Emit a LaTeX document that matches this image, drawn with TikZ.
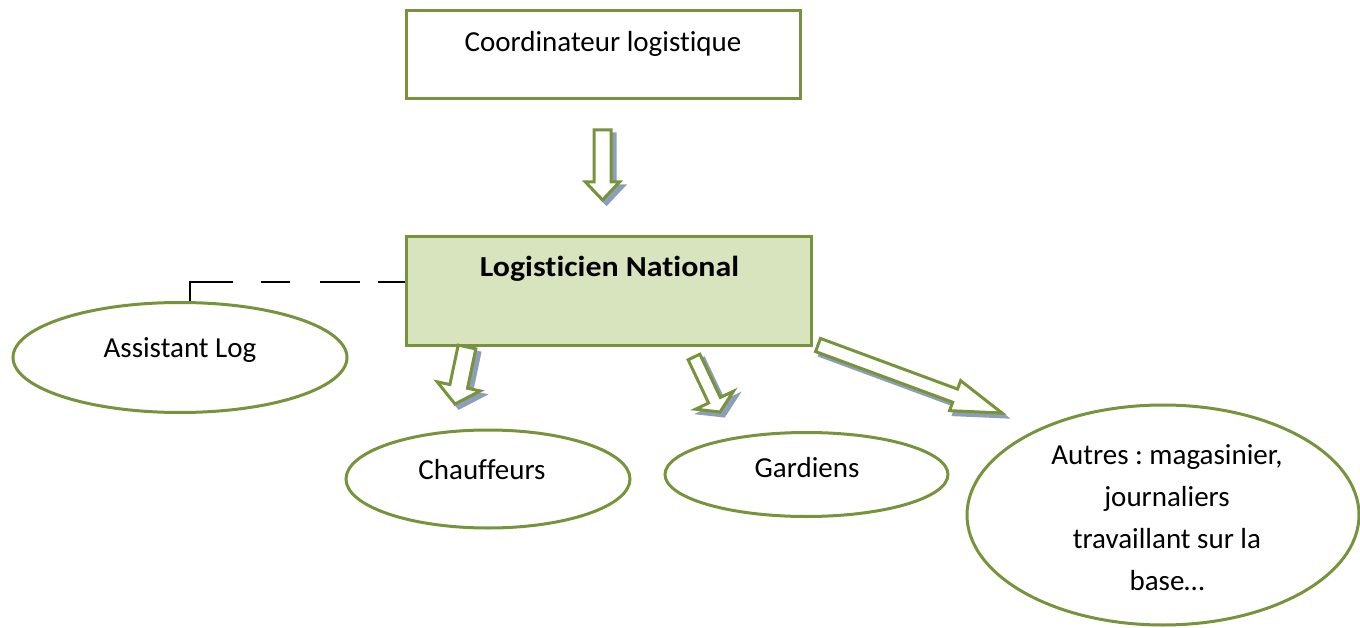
\documentclass[tikz,border=0pt]{standalone}
\usepackage{fontspec}
\setmainfont{Carlito}[Ligatures=NoCommon]
\usetikzlibrary{calc,shapes.geometric}
\definecolor{ogreen}{RGB}{119,147,60}
\definecolor{lgreen}{RGB}{215,228,189}
\definecolor{shadowc}{RGB}{141,158,184}
\tikzset{
  box/.style={draw=ogreen, line width=3pt, rectangle, inner sep=0pt},
  oval/.style={draw=ogreen, line width=3pt, ellipse, inner sep=0pt, fill=white},
  lbl/.style={anchor=base, inner sep=0pt, font=\fontsize{29}{42}\selectfont\frenchspacing},
  arrowst/.style={draw=ogreen, fill=white, line width=3pt, line join=miter},
  shadowst/.style={draw=shadowc, fill=shadowc, line width=3pt, line join=miter}
}
\newcommand\blockarr[5]{%
  \coordinate (ba-b) at ($(#2)!#5!(#1)$);
  \begin{scope}[transform canvas={shift={(4pt,-4pt)}}]
  \path[shadowst] ($(#1)!#3!90:(#2)$) -- ($(ba-b)!#3!90:(#2)$) -- ($(ba-b)!#4!90:(#2)$) -- (#2) -- ($(ba-b)!#4!-90:(#2)$) -- ($(ba-b)!#3!-90:(#2)$) -- ($(#1)!#3!-90:(#2)$) -- cycle;
  \end{scope}
  \path[arrowst] ($(#1)!#3!90:(#2)$) -- ($(ba-b)!#3!90:(#2)$) -- ($(ba-b)!#4!90:(#2)$) -- (#2) -- ($(ba-b)!#4!-90:(#2)$) -- ($(ba-b)!#3!-90:(#2)$) -- ($(#1)!#3!-90:(#2)$) -- cycle;
}
\begin{document}
\begin{tikzpicture}[x=1pt,y=-1pt]
\useasboundingbox[fill=white] (0,0) rectangle (1360,628);
% boxes
\node[box, minimum width=394pt, minimum height=88pt] (coord) at (603,55) {};
\node[lbl] (coordt) at (603,52) {Coordinateur logistique};
\node[box, fill=lgreen, minimum width=405pt, minimum height=108pt] (logn) at (608.5,291) {};
\node[lbl, font=\fontsize{29}{42}\selectfont\bfseries] (lognt) at (609.5,277) {\scalebox{1.1}[1]{Logisticien National}};
% ellipses
\node[oval, minimum width=334pt, minimum height=110pt] (assist) at (180,357.5) {};
\node[lbl] (assistt) at (180,357) {Assistant Log};
\node[oval, minimum width=284pt, minimum height=98pt] (chauf) at (488,479) {};
\node[lbl] (chauft) at (482,479) {Chauffeurs};
\node[oval, minimum width=283pt, minimum height=84pt] (gard) at (806.5,474.5) {};
\node[lbl] (gardt) at (807,477) {Gardiens};
\node[oval, minimum width=392pt, minimum height=220pt] (autres) at (1163,515) {};
\node[lbl, anchor=center, align=center] (autrest) at (1167,518) {Autres : magasinier,\\journaliers\\travaillant sur la\\base\dots};
% dashed link
\coordinate (dcorner) at (190,282);
\draw[line width=2pt, dash pattern=on 27pt off 18pt on 40pt off 30pt on 29pt off 28pt on 80pt]
  (logn.west |- dcorner) -- (dcorner) -- (dcorner |- assist.north);
% arrows
\coordinate (a1t) at (602.5,130); \coordinate (a1h) at (602.5,200);
\blockarr{a1t}{a1h}{8.5pt}{17pt}{18pt}
\coordinate (a2t) at (467,347); \coordinate (a2h) at (455,404);
\blockarr{a2t}{a2h}{9pt}{22pt}{18pt}
\coordinate (a3t) at (694,357); \coordinate (a3h) at (720,412);
\blockarr{a3t}{a3h}{6.5pt}{21pt}{13pt}
\coordinate (a4t) at (818,345); \coordinate (a4h) at (1002,413);
\blockarr{a4t}{a4h}{7pt}{16pt}{50pt}
\end{tikzpicture}
\end{document}
